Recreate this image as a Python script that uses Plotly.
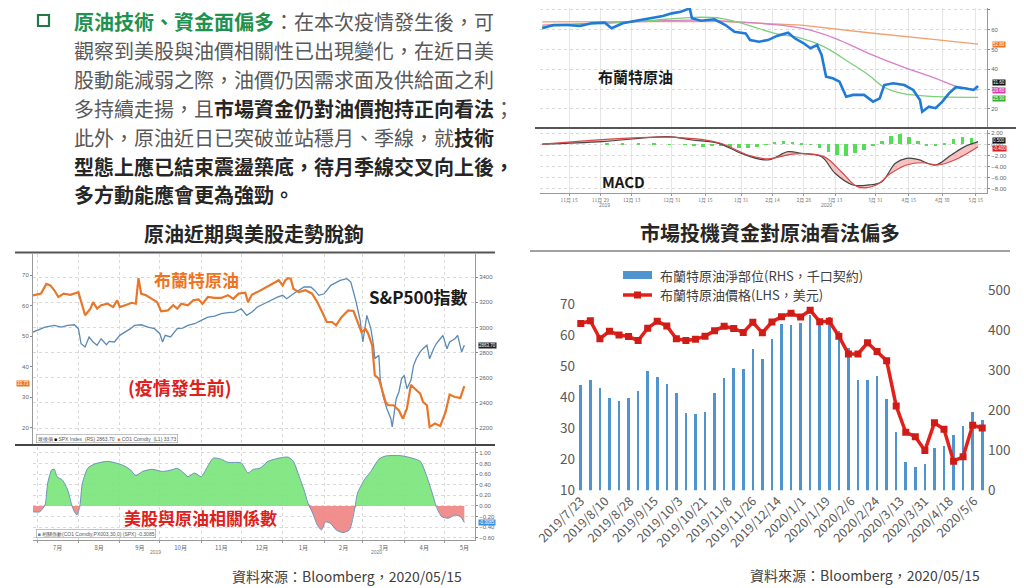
import plotly.graph_objects as go

# the page body has an 8px margin, so the figure is drawn 8px smaller and shifted
OFF = 8
W, H = 1024 - OFF, 588 - OFF
CJK = "Noto Sans CJK TC"


def px(x):
    return (x - OFF) / W


def py(y):
    return 1 - (y - OFF) / H


# ---------------- bottom right: Brent net position vs price (weekly) ----------------
pos_dates = ['2019-07-23', '2019-07-30', '2019-08-06', '2019-08-13', '2019-08-20', '2019-08-27',
             '2019-09-03', '2019-09-10', '2019-09-17', '2019-09-24', '2019-10-01', '2019-10-08',
             '2019-10-15', '2019-10-22', '2019-10-29', '2019-11-05', '2019-11-12', '2019-11-19',
             '2019-11-26', '2019-12-03', '2019-12-10', '2019-12-17', '2019-12-24', '2019-12-31',
             '2020-01-07', '2020-01-14', '2020-01-21', '2020-01-28', '2020-02-04', '2020-02-11',
             '2020-02-18', '2020-02-25', '2020-03-03', '2020-03-10', '2020-03-17', '2020-03-24',
             '2020-03-31', '2020-04-07', '2020-04-14', '2020-04-21', '2020-04-28', '2020-05-05',
             '2020-05-12']
net_long = [263, 277, 257, 230, 223, 230, 248, 298, 283, 265, 244, 193, 191, 197, 244, 280,
            305, 304, 354, 328, 379, 415, 413, 419, 437, 421, 433, 398, 355, 277, 277, 285,
            229, 146, 72, 58, 65, 106, 111, 138, 160, 196, 176]
brent_wk = [63.8, 64.7, 58.9, 61.3, 60.1, 59.6, 58.3, 62.3, 64.5, 63.0, 58.9, 58.3, 58.7, 59.7,
            61.5, 62.9, 62.2, 60.9, 64.2, 60.8, 64.3, 66.0, 67.1, 65.9, 68.1, 64.4, 64.5, 59.7,
            54.0, 54.0, 57.6, 54.8, 51.8, 37.2, 28.7, 27.3, 22.8, 31.8, 29.7, 19.4, 20.8, 31.0,
            30.1]
pos_tickvals = ['2019-07-23', '2019-08-10', '2019-08-28', '2019-09-15', '2019-10-03', '2019-10-21',
                '2019-11-08', '2019-11-26', '2019-12-14', '2020-01-01', '2020-01-19', '2020-02-06',
                '2020-02-24', '2020-03-13', '2020-03-31', '2020-04-18', '2020-05-06']
pos_ticktext = ['2019/7/23', '2019/8/10', '2019/8/28', '2019/9/15', '2019/10/3', '2019/10/21',
                '2019/11/8', '2019/11/26', '2019/12/14', '2020/1/1', '2020/1/19', '2020/2/6',
                '2020/2/24', '2020/3/13', '2020/3/31', '2020/4/18', '2020/5/6']

# ---------------- bottom left: Brent vs S&P500 and their correlation ----------------
oil_dates = ['2019-06-28', '2019-07-04', '2019-07-08', '2019-07-11', '2019-07-14', '2019-07-17',
             '2019-07-21', '2019-07-26', '2019-08-01', '2019-08-03', '2019-08-06', '2019-08-10',
             '2019-08-12', '2019-08-15', '2019-08-18', '2019-08-23', '2019-08-27', '2019-08-30',
             '2019-09-01', '2019-09-05', '2019-09-10', '2019-09-13', '2019-09-15', '2019-09-17',
             '2019-09-21', '2019-09-25', '2019-09-29', '2019-10-02', '2019-10-07', '2019-10-11',
             '2019-10-14', '2019-10-17', '2019-10-22', '2019-10-26', '2019-10-30', '2019-11-02',
             '2019-11-06', '2019-11-11', '2019-11-16', '2019-11-21', '2019-11-25', '2019-11-29',
             '2019-12-04', '2019-12-06', '2019-12-09', '2019-12-13', '2019-12-18', '2019-12-22',
             '2019-12-25', '2019-12-29', '2020-01-01', '2020-01-03', '2020-01-05', '2020-01-07',
             '2020-01-09', '2020-01-13', '2020-01-18', '2020-01-23', '2020-01-27', '2020-01-30',
             '2020-02-03', '2020-02-07', '2020-02-10', '2020-02-14', '2020-02-19', '2020-02-23',
             '2020-02-25', '2020-02-29', '2020-03-03', '2020-03-05', '2020-03-08', '2020-03-10',
             '2020-03-13', '2020-03-15', '2020-03-18', '2020-03-20', '2020-03-24', '2020-03-28',
             '2020-03-31', '2020-04-03', '2020-04-06', '2020-04-09', '2020-04-13', '2020-04-15',
             '2020-04-18', '2020-04-20', '2020-04-24', '2020-04-28', '2020-05-02', '2020-05-05',
             '2020-05-09', '2020-05-13', '2020-05-16']
oil_px = [63.3, 63.9, 67.1, 66.6, 65.0, 62.8, 63.9, 63.5, 64.4, 61.1, 56.8, 59.0, 61.1, 59.0,
          60.1, 60.6, 59.5, 61.7, 59.5, 60.1, 60.9, 60.6, 69.0, 63.9, 63.3, 62.2, 61.1, 58.1,
          58.4, 60.1, 59.0, 60.6, 60.1, 61.7, 62.0, 60.6, 62.8, 62.5, 62.5, 63.4, 62.2, 63.9,
          64.2, 61.1, 63.6, 64.4, 65.5, 66.4, 67.3, 68.3, 66.6, 68.3, 69.0, 68.8, 65.5, 64.4,
          65.0, 63.9, 61.1, 58.4, 54.6, 54.6, 53.5, 56.2, 58.4, 58.2, 55.7, 51.3, 52.4, 50.8,
          46.9, 37.1, 36.0, 32.7, 28.4, 27.3, 27.3, 25.6, 22.9, 26.2, 34.0, 32.7, 31.1, 28.4,
          27.3, 20.2, 21.3, 20.5, 25.1, 30.8, 30.0, 29.7, 33.6]
spx_dates = ['2019-06-28', '2019-07-04', '2019-07-07', '2019-07-14', '2019-07-19', '2019-07-24',
             '2019-07-29', '2019-08-01', '2019-08-03', '2019-08-06', '2019-08-09', '2019-08-12',
             '2019-08-15', '2019-08-18', '2019-08-22', '2019-08-24', '2019-08-28', '2019-09-01',
             '2019-09-05', '2019-09-09', '2019-09-12', '2019-09-17', '2019-09-22', '2019-09-27',
             '2019-10-01', '2019-10-03', '2019-10-05', '2019-10-09', '2019-10-14', '2019-10-18',
             '2019-10-22', '2019-10-27', '2019-11-01', '2019-11-06', '2019-11-11', '2019-11-16',
             '2019-11-21', '2019-11-26', '2019-12-01', '2019-12-05', '2019-12-09', '2019-12-13',
             '2019-12-18', '2019-12-23', '2019-12-28', '2020-01-01', '2020-01-04', '2020-01-09',
             '2020-01-13', '2020-01-17', '2020-01-22', '2020-01-25', '2020-01-28', '2020-02-01',
             '2020-02-06', '2020-02-10', '2020-02-13', '2020-02-18', '2020-02-21', '2020-02-23',
             '2020-02-25', '2020-02-28', '2020-03-01', '2020-03-04', '2020-03-07', '2020-03-09',
             '2020-03-10', '2020-03-13', '2020-03-14', '2020-03-16', '2020-03-19', '2020-03-22',
             '2020-03-23', '2020-03-26', '2020-03-28', '2020-03-30', '2020-04-01', '2020-04-03',
             '2020-04-06', '2020-04-08', '2020-04-10', '2020-04-13', '2020-04-15', '2020-04-18',
             '2020-04-20', '2020-04-23', '2020-04-25', '2020-04-28', '2020-04-30', '2020-05-03',
             '2020-05-05', '2020-05-09', '2020-05-11', '2020-05-14', '2020-05-16']
spx_px = [2963, 2990, 3003, 3016, 3003, 3016, 3021, 2990, 2870, 2844, 2924, 2884, 2858, 2910,
          2862, 2889, 2884, 2937, 2963, 2990, 3016, 3021, 3003, 2990, 2950, 2884, 2937, 2924,
          2990, 2995, 3016, 3029, 3056, 3082, 3090, 3109, 3117, 3122, 3148, 3096, 3122, 3162,
          3188, 3215, 3241, 3255, 3228, 3267, 3294, 3321, 3321, 3294, 3255, 3267, 3334, 3360,
          3374, 3387, 3360, 3281, 3201, 3056, 2884, 3096, 2990, 2858, 2751, 2778, 2592, 2461,
          2354, 2275, 2209, 2434, 2487, 2592, 2619, 2513, 2580, 2699, 2751, 2805, 2831, 2858,
          2751, 2831, 2870, 2910, 2937, 2831, 2884, 2910, 2937, 2805, 2858]
corr_dates = ['2019-06-28', '2019-07-03', '2019-07-07', '2019-07-09', '2019-07-12', '2019-07-14',
              '2019-07-16', '2019-07-20', '2019-07-24', '2019-07-27', '2019-07-29', '2019-07-31',
              '2019-08-02', '2019-08-04', '2019-08-08', '2019-08-13', '2019-08-23', '2019-09-03',
              '2019-09-09', '2019-09-13', '2019-09-18', '2019-09-25', '2019-10-03', '2019-10-10',
              '2019-10-14', '2019-10-19', '2019-10-22', '2019-10-27', '2019-11-01', '2019-11-05',
              '2019-11-10', '2019-11-16', '2019-11-21', '2019-11-26', '2019-12-01', '2019-12-06',
              '2019-12-10', '2019-12-15', '2019-12-21', '2019-12-29', '2020-01-05', '2020-01-09',
              '2020-01-13', '2020-01-17', '2020-01-20', '2020-01-23', '2020-01-27', '2020-01-30',
              '2020-02-02', '2020-02-06', '2020-02-10', '2020-02-15', '2020-02-20', '2020-02-24',
              '2020-02-26', '2020-03-02', '2020-03-07', '2020-03-13', '2020-03-18', '2020-03-28',
              '2020-04-04', '2020-04-13', '2020-04-18', '2020-04-22', '2020-04-25', '2020-04-29',
              '2020-05-04', '2020-05-09', '2020-05-13', '2020-05-16']
corr_vals = [-0.11, -0.11, 0.02, 0.43, 0.68, 0.69, 0.55, 0.49, 0.30, 0.02, -0.11, -0.17, -0.01,
             0.43, 0.71, 0.79, 0.84, 0.77, 0.68, 0.57, 0.65, 0.69, 0.65, 0.68, 0.71, 0.62, 0.55,
             0.62, 0.55, 0.71, 0.90, 0.88, 0.82, 0.82, 0.81, 0.62, 0.69, 0.71, 0.84, 0.90, 0.92,
             0.84, 0.58, 0.30, 0.05, -0.11, -0.36, -0.45, -0.30, -0.33, -0.45, -0.50, -0.45,
             -0.04, 0.24, 0.49, 0.65, 0.88, 0.94, 0.95, 0.92, 0.84, 0.55, 0.24, -0.01, -0.20,
             -0.23, -0.17, -0.20, -0.31]
year_labels_b = ['2019', '2020']
year_dates_b = ['2019-09-28', '2020-03-11']

# ---------------- top right: Brent daily with moving averages and MACD ----------------
a_dates = ['2019-11-03', '2019-11-08', '2019-11-14', '2019-11-20', '2019-11-25', '2019-12-01',
           '2019-12-04', '2019-12-09', '2019-12-15', '2019-12-21', '2019-12-27', '2019-12-31',
           '2020-01-04', '2020-01-08', '2020-01-09', '2020-01-13', '2020-01-19', '2020-01-24',
           '2020-01-28', '2020-02-02', '2020-02-04', '2020-02-08', '2020-02-12', '2020-02-16',
           '2020-02-21', '2020-02-24', '2020-02-28', '2020-03-02', '2020-03-05', '2020-03-07',
           '2020-03-09', '2020-03-12', '2020-03-15', '2020-03-18', '2020-03-21', '2020-03-26',
           '2020-03-30', '2020-04-02', '2020-04-04', '2020-04-08', '2020-04-13', '2020-04-17',
           '2020-04-20', '2020-04-21', '2020-04-24', '2020-04-27', '2020-04-30', '2020-05-03',
           '2020-05-06', '2020-05-10', '2020-05-14', '2020-05-16']
a_close = [60.8, 62.4, 62.4, 61.9, 63.3, 63.6, 60.8, 63.3, 64.6, 65.8, 67.0, 68.3, 69.1, 70.8,
           65.8, 64.6, 65.3, 62.4, 59.0, 58.2, 54.8, 54.0, 54.8, 56.9, 58.5, 55.7, 53.2, 50.7,
           52.3, 47.3, 36.3, 35.5, 33.8, 26.2, 27.1, 27.1, 23.7, 25.4, 32.1, 33.0, 32.1, 29.6,
           24.5, 18.6, 21.2, 20.4, 23.7, 27.9, 31.0, 30.5, 29.6, 31.6]
ma200_dates = ['2019-11-03', '2020-01-01', '2020-01-21', '2020-02-27', '2020-03-28', '2020-04-27',
               '2020-05-16']
ma200 = [64.0, 64.4, 64.2, 62.4, 58.5, 55.0, 52.8]
ma100_dates = ['2019-11-03', '2019-12-15', '2020-01-10', '2020-01-28', '2020-02-12', '2020-02-27',
               '2020-03-13', '2020-03-28', '2020-04-12', '2020-04-27', '2020-05-06', '2020-05-16']
ma100 = [62.4, 64.1, 64.9, 64.1, 62.9, 60.8, 55.7, 48.1, 41.4, 35.5, 31.6, 29.6]
ma50_dates = ['2019-11-03', '2019-12-15', '2020-01-10', '2020-01-22', '2020-02-03', '2020-02-15',
              '2020-02-27', '2020-03-08', '2020-03-20', '2020-03-28', '2020-04-04', '2020-04-12',
              '2020-04-27', '2020-05-16']
ma50 = [61.6, 64.1, 66.3, 65.8, 62.4, 58.2, 55.7, 51.5, 43.1, 37.2, 31.0, 27.9, 26.2, 25.9]
macd_dates = ['2019-11-03', '2019-11-30', '2019-12-29', '2020-01-09', '2020-01-21', '2020-01-31',
              '2020-02-12', '2020-02-21', '2020-02-27', '2020-03-07', '2020-03-13', '2020-03-21',
              '2020-03-28', '2020-04-03', '2020-04-09', '2020-04-14', '2020-04-19', '2020-04-27',
              '2020-05-04', '2020-05-10', '2020-05-16']
macd = [0.04, 0.5, 1.4, 0.8, 0.2, -1.6, -2.8, -1.3, -1.6, -2.2, -5.2, -7.3, -7.3, -6.7, -3.4,
        -2.5, -2.7, -3.7, -1.9, -0.4, 0.5]
sig_dates = ['2019-11-03', '2019-12-29', '2020-01-21', '2020-02-03', '2020-02-12', '2020-02-24',
             '2020-03-08', '2020-03-16', '2020-03-23', '2020-03-31', '2020-04-07', '2020-04-14',
             '2020-04-21', '2020-04-28', '2020-05-06', '2020-05-16']
signal = [0.04, 1.3, 0.3, -1.9, -2.6, -1.7, -2.2, -5.0, -7.6, -7.4, -5.2, -3.7, -3.3, -3.7,
          -2.7, -0.4]
hist_dates = ['2019-12-02', '2019-12-09', '2019-12-16', '2019-12-23', '2019-12-30', '2020-01-06',
              '2020-01-10', '2020-01-14', '2020-01-18', '2020-01-22', '2020-01-26', '2020-01-30',
              '2020-02-03', '2020-02-07', '2020-02-11', '2020-02-15', '2020-02-19', '2020-02-23',
              '2020-02-27', '2020-03-02', '2020-03-06', '2020-03-10', '2020-03-14', '2020-03-18',
              '2020-03-22', '2020-03-26', '2020-03-30', '2020-04-03', '2020-04-07', '2020-04-11',
              '2020-04-15', '2020-04-19', '2020-04-23', '2020-04-27', '2020-05-01', '2020-05-05',
              '2020-05-09', '2020-05-13']
hist = [0.15, 0.2, 0.15, 0.1, 0.05, -0.1, -0.3, -0.4, -0.35, -0.3, -0.5, -0.7, -0.7, -0.5, -0.1,
        0.4, 0.7, 0.5, 0.1, -0.1, -0.6, -1.4, -1.9, -2.0, -1.6, -1.0, -0.2, 0.7, 1.5, 1.8, 1.4,
        0.6, -0.2, -0.3, 0.2, 0.9, 1.3, 1.2]
a_tickvals = ['2019-11-15', '2019-11-29', '2019-12-13', '2019-12-31', '2020-01-15', '2020-01-31',
              '2020-02-14', '2020-02-28', '2020-03-13', '2020-03-31', '2020-04-15', '2020-04-30',
              '2020-05-15']
a_ticktext = ['11月 15', '11月 29', '12月 13', '12月 31', '1月 15', '1月 31', '2月 14', '2月 28',
              '3月 13', '3月 31', '4月 15', '4月 30', '5月 15']
year_labels_a = ['2019', '2020']
year_dates_a = ['2019-12-01', '2020-03-09']

fig = go.Figure()

# main chart
fig.add_trace(go.Bar(x=pos_dates, y=net_long, xaxis='x', yaxis='y',
                     marker=dict(color='#4f94cf', line=dict(width=0)),
                     width=1.9 * 86400000, name='布蘭特原油淨部位(RHS，千口契約)'))
fig.add_trace(go.Scatter(x=pos_dates, y=brent_wk, xaxis='x', yaxis='y2', mode='lines+markers',
                         line=dict(color='#e3211a', width=3.5),
                         marker=dict(symbol='square', size=7, color='#cf1c16'),
                         name='布蘭特原油價格(LHS，美元)'))

# bottom left, upper panel
fig.add_trace(go.Scatter(x=spx_dates, y=spx_px, xaxis='x5', yaxis='y5', mode='lines',
                         line=dict(color='#5a8ab5', width=1.3)))
fig.add_trace(go.Scatter(x=oil_dates, y=oil_px, xaxis='x5', yaxis='y6', mode='lines',
                         line=dict(color='#e8772a', width=2.2)))

# bottom left, correlation panel
corr_pos = [max(v, 0) for v in corr_vals]
corr_neg = [min(v, 0) for v in corr_vals]
fig.add_trace(go.Scatter(x=corr_dates, y=corr_pos, xaxis='x6', yaxis='y7', mode='lines',
                         line=dict(width=0, shape='spline', smoothing=0.6), fill='tozeroy',
                         fillcolor='rgba(120,228,120,0.9)'))
fig.add_trace(go.Scatter(x=corr_dates, y=corr_neg, xaxis='x6', yaxis='y7', mode='lines',
                         line=dict(width=0, shape='spline', smoothing=0.6), fill='tozeroy',
                         fillcolor='rgba(240,130,130,0.9)'))
fig.add_trace(go.Scatter(x=corr_dates, y=corr_vals, xaxis='x6', yaxis='y7', mode='lines',
                         line=dict(color='#6a94b8', width=1, shape='spline', smoothing=0.6)))

# top right, price panel
fig.add_trace(go.Scatter(x=ma200_dates, y=ma200, xaxis='x3', yaxis='y3', mode='lines',
                         line=dict(color='#f0a070', width=1.3)))
fig.add_trace(go.Scatter(x=ma100_dates, y=ma100, xaxis='x3', yaxis='y3', mode='lines',
                         line=dict(color='#d87fc8', width=1.3, shape='spline')))
fig.add_trace(go.Scatter(x=ma50_dates, y=ma50, xaxis='x3', yaxis='y3', mode='lines',
                         line=dict(color='#7ccf7c', width=1.3, shape='spline')))
fig.add_trace(go.Scatter(x=a_dates, y=a_close, xaxis='x3', yaxis='y3', mode='lines',
                         line=dict(color='#1f7ad8', width=2.6)))

# top right, MACD panel
fig.add_trace(go.Bar(x=hist_dates, y=hist, xaxis='x4', yaxis='y4',
                     marker=dict(color='#55dd55', line=dict(width=0)), width=1.6 * 86400000))
fig.add_trace(go.Scatter(x=macd_dates, y=macd, xaxis='x4', yaxis='y4', mode='lines',
                         line=dict(color='#444444', width=1.2, shape='spline')))
fig.add_trace(go.Scatter(x=sig_dates, y=signal, xaxis='x4', yaxis='y4', mode='lines',
                         line=dict(color='#d84848', width=1.2, shape='spline'),
                         fill='tonexty', fillcolor='rgba(235,120,120,0.45)'))

small = dict(family='Liberation Sans', size=6, color='#666666')
grid_dot = dict(showgrid=True, gridcolor='#d9d9d9', griddash='dot', gridwidth=1)

fig.update_layout(
    width=W, height=H, margin=dict(l=0, r=0, t=0, b=0, autoexpand=False),
    paper_bgcolor='white', plot_bgcolor='rgba(0,0,0,0)',
    showlegend=False, bargap=0,
    font=dict(family=CJK, color='#595959'),
    # main chart
    xaxis=dict(domain=[px(576), px(987)], anchor='y', type='date', automargin=False,
               range=['2019-07-19 12:00', '2020-05-15 12:00'],
               tickmode='array', tickvals=pos_tickvals, ticktext=pos_ticktext,
               tickangle=-45, tickfont=dict(family=CJK, size=12.5, color='#595959'),
               showgrid=False, showline=False, zeroline=False, ticks=''),
    yaxis=dict(domain=[py(490.3), py(288.8)], anchor='x', side='right', range=[0, 503],
               automargin=False, tickvals=[0, 100, 200, 300, 400, 500], showgrid=False,
               zeroline=False, tickfont=dict(family=CJK, size=13.5, color='#595959')),
    yaxis2=dict(overlaying='y', anchor='x', side='left', range=[10, 75], automargin=False,
                tickvals=[10, 20, 30, 40, 50, 60, 70], showgrid=False, zeroline=False,
                tickfont=dict(family=CJK, size=13.5, color='#595959')),
    # top right price panel
    xaxis3=dict(domain=[px(540), px(987)], anchor='y3', type='date', automargin=False,
                range=['2019-11-02', '2020-05-20'], tickmode='array', tickvals=a_tickvals,
                showticklabels=False, ticks='', showline=False, zeroline=False,
                showgrid=True, gridcolor='#e6e6e6'),
    yaxis3=dict(domain=[py(127), 1], anchor='x3', side='right', range=[10.9, 71],
                automargin=False, tickvals=[20, 30, 40, 50, 60, 70], tickfont=small,
                ticks='outside', ticklen=2, tickcolor='#888', zeroline=False, showline=True,
                linecolor='#999', linewidth=1, **grid_dot),
    xaxis4=dict(domain=[px(540), px(987)], anchor='y4', type='date', matches='x3',
                automargin=False, tickmode='array', tickvals=a_tickvals, ticktext=a_ticktext,
                tickfont=dict(family=CJK, size=5, color='#777'), ticks='outside', ticklen=2,
                tickcolor='#999', showline=True, linecolor='#999', zeroline=False,
                showgrid=True, gridcolor='#e6e6e6'),
    yaxis4=dict(domain=[py(193.3), py(130)], anchor='x4', side='right', range=[-8.8, 2.6],
                automargin=False, tickvals=[-8, -6, -4, -2, 0, 2], tickformat='.2f',
                tickfont=small, ticks='outside', ticklen=2, tickcolor='#888', zeroline=False,
                showline=True, linecolor='#999', linewidth=1, **grid_dot),
    # bottom left upper panel
    xaxis5=dict(domain=[px(33), px(475)], anchor='y5', type='date', automargin=False,
                range=['2019-06-28', '2020-05-24'], dtick='M1', tick0='2019-07-01',
                showticklabels=False, ticks='', zeroline=False, showline=False,
                **grid_dot),
    yaxis5=dict(domain=[py(444), py(254)], anchor='x5', side='right', range=[2074, 3583],
                automargin=False, tickvals=[2200, 2400, 2600, 2800, 3000, 3200, 3400],
                tickfont=small, ticks='outside', ticklen=2, tickcolor='#888', zeroline=False,
                showline=True, linecolor='#999', **grid_dot),
    yaxis6=dict(overlaying='y5', anchor='x5', side='left', range=[14.6, 76.9],
                automargin=False, tickvals=[20, 30, 40, 50, 60, 70], tickfont=small,
                ticks='outside', ticklen=2, tickcolor='#888', showgrid=False, zeroline=False,
                showline=True, linecolor='#999'),
    # bottom left correlation panel
    xaxis6=dict(domain=[px(33), px(475)], anchor='y7', type='date', matches='x5',
                automargin=False, dtick='M1', tick0='2019-07-01', ticklabelmode='period',
                tickformat='%-m月', tickfont=dict(family=CJK, size=6, color='#666'),
                ticks='outside', ticklen=2, tickcolor='#999', showline=True, linecolor='#999',
                zeroline=False, **grid_dot),
    yaxis7=dict(domain=[py(540), py(447)], anchor='x6', side='right', range=[-0.64, 1.11],
                automargin=False, tickvals=[-0.6, -0.4, -0.2, 0, 0.2, 0.4, 0.6, 0.8, 1.0],
                tickformat='.2f', tickfont=small, ticks='outside', ticklen=2, tickcolor='#888',
                zeroline=False, showline=True, linecolor='#999', **grid_dot),
)

ann = []


def text(x, y, s, size, color='#595959', anchor='left', family=CJK, **kw):
    ann.append(dict(x=px(x), y=py(y), xref='paper', yref='paper', text=s, showarrow=False,
                    xanchor=anchor, yanchor='middle',
                    font=dict(family=family, size=size, color=color), **kw))


def tag(x, y, s, bg):
    text(x, y, s, 4.5, 'white', 'center', family='Liberation Sans', bgcolor=bg, borderpad=0)


# paragraph
B = "<span style='color:#262626'><b>%s</b></span>"
para = [
    "<span style='color:#1f9150'><b>原油技術、資金面偏多</b></span>：在本次疫情發生後，可",
    "觀察到美股與油價相關性已出現變化，在近日美",
    "股動能減弱之際，油價仍因需求面及供給面之利",
    "多持續走揚，且" + B % "市場資金仍對油價抱持正向看法" + "；",
    "此外，原油近日已突破並站穩月、季線，就" + B % "技術",
    B % "型態上應已結束震盪築底，待月季線交叉向上後，",
    B % "多方動能應會更為強勁。",
]
for i, line in enumerate(para):
    text(73, 21.5 + i * 28.9, line, 20, borderpad=0)

# section titles
text(254, 233, "<b>原油近期與美股走勢脫鉤</b>", 20, '#262626', 'center')
text(770, 232, "<b>市場投機資金對原油看法偏多</b>", 20, '#262626', 'center')

# chart labels
text(196, 279, "<b>布蘭特原油</b>", 17, '#ef7420', 'center')
text(418, 296, "<b>S&P500指數</b>", 17, '#1a1a1a', 'center')
text(180, 387, "<b>(疫情發生前)</b>", 18, '#e0201a', 'center')
text(200, 517, "<b>美股與原油相關係數</b>", 17, '#e0201a', 'center')
text(635, 77, "<b>布蘭特原油</b>", 15, '#1a1a1a', 'center')
text(623, 181, "<b>MACD</b>", 15, '#1a1a1a', 'center')

# sources
text(347, 576, "資料來源：Bloomberg，2020/05/15", 14, '#404040', 'center')
text(865, 575, "資料來源：Bloomberg，2020/05/15", 14, '#404040', 'center')

# main chart legend
text(658, 275, "布蘭特原油淨部位(RHS，千口契約)", 13, '#404040')
text(658, 295, "布蘭特原油價格(LHS，美元)", 13, '#404040')

# bloomberg legend boxes and value tags
text(36, 438, "最後價 <span style='color:#000'>■</span> SPX Index  (RS) 2863.70  "
     "<span style='color:#e8772a'>■</span> CO1 Comdty  (L1) 33.73", 5, '#555',
     family='Liberation Sans', bordercolor='#999', borderwidth=0.6, borderpad=1,
     bgcolor='white')
text(36, 533, "<span style='color:#3a7fd0'>■</span> 相關係數(CO1 Comdty,PX003,30,0) (SPX) -0.3085",
     5, '#555', family='Liberation Sans', bordercolor='#999', borderwidth=0.6, borderpad=1,
     bgcolor='white')
tag(23, 383, "33.73", '#ef7420')
tag(487, 345, "2863.70", '#222')
tag(487, 522, "-0.3085", '#3a8fe0')
tag(999, 44, "52.80", '#ef7420')
tag(999, 83, "31.60", '#111')
tag(999, 90.6, "29.60", '#d040b0')
tag(999, 98.2, "25.90", '#30b030')
tag(999, 140.6, "0.500", '#111')
tag(999, 148.2, "-0.400", '#e02020')

# year labels under the bloomberg date axes
for lab, d in zip(year_labels_a, year_dates_a):
    ann.append(dict(x=d, y=py(205), xref='x4', yref='paper', text=lab, showarrow=False,
                    font=dict(family='Liberation Sans', size=5, color='#777')))
for lab, d in zip(year_labels_b, year_dates_b):
    ann.append(dict(x=d, y=py(556.5), xref='x6', yref='paper', text=lab, showarrow=False,
                    font=dict(family='Liberation Sans', size=5, color='#777')))

fig.update_layout(annotations=ann)

# bullet, rules and separators
shapes = [
    dict(type='rect', xref='paper', yref='paper', x0=px(38), x1=px(49), y0=py(26), y1=py(15),
         line=dict(color='#1f7a45', width=2.2)),
    dict(type='line', xref='paper', yref='paper', x0=px(530), x1=px(1010), y0=py(251),
         y1=py(251), line=dict(color='#444', width=1.2)),
    dict(type='line', xref='paper', yref='paper', x0=px(15), x1=px(495), y0=py(252.5),
         y1=py(252.5), line=dict(color='#555', width=2)),
    dict(type='line', xref='paper', yref='paper', x0=px(15), x1=px(495), y0=py(445),
         y1=py(445), line=dict(color='#444', width=2)),
    dict(type='line', xref='paper', yref='paper', x0=px(535), x1=px(1024), y0=py(128),
         y1=py(128), line=dict(color='#555', width=2)),
    # main chart legend symbols
    dict(type='rect', xref='paper', yref='paper', x0=px(623), x1=px(652), y0=py(279),
         y1=py(271), fillcolor='#4f94cf', line=dict(width=0)),
    dict(type='line', xref='paper', yref='paper', x0=px(623), x1=px(652), y0=py(295),
         y1=py(295), line=dict(color='#e3211a', width=3.5)),
    dict(type='rect', xref='paper', yref='paper', x0=px(634), x1=px(641), y0=py(298.5),
         y1=py(291.5), fillcolor='#cf1c16', line=dict(width=0)),
]
fig.update_layout(shapes=shapes)

fig.write_html("out.html")
